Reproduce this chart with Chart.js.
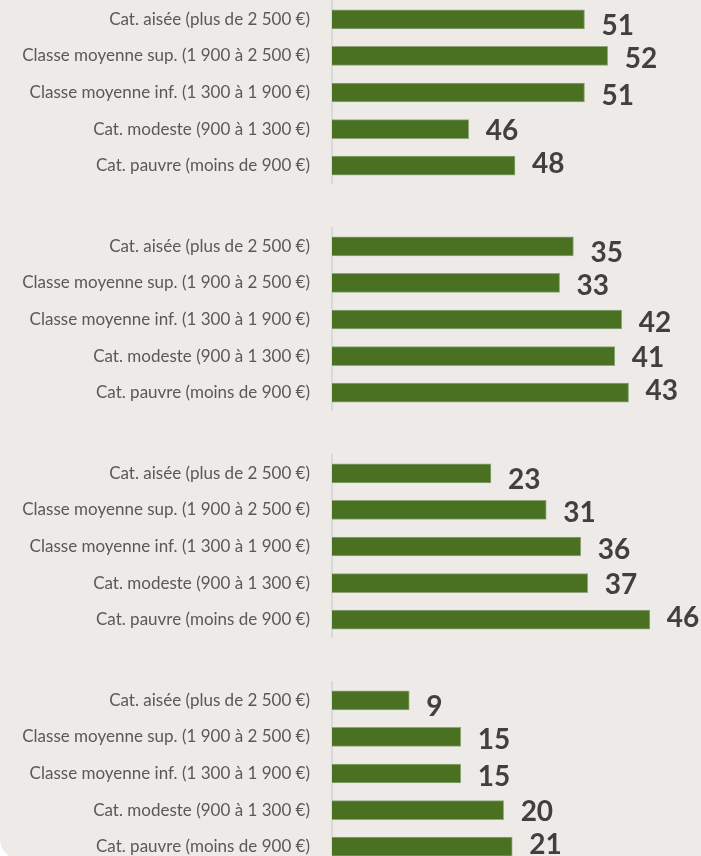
<!DOCTYPE html>
<html><head><meta charset="utf-8">
<script src="https://cdn.jsdelivr.net/npm/chart.js@4/dist/chart.umd.min.js"></script>
<style>
html,body{margin:0;padding:0;background:#fff;overflow:hidden;}
#wrap{position:relative;width:701px;height:859px;background:#EDEAE8;border-radius:0 0 0 20px;overflow:hidden;}
canvas{position:absolute;left:0;}
</style></head><body>
<div id="wrap">
<canvas id="g0" width="701" height="184" style="top:0px"></canvas>
<canvas id="g1" width="701" height="184" style="top:227px"></canvas>
<canvas id="g2" width="701" height="184" style="top:454px"></canvas>
<canvas id="g3" width="701" height="184" style="top:681px"></canvas>
</div>
<script>
const categories = [
  "Cat. aisée (plus de 2 500 €)",
  "Classe moyenne sup. (1 900 à 2 500 €)",
  "Classe moyenne inf. (1 300 à 1 900 €)",
  "Cat. modeste (900 à 1 300 €)",
  "Cat. pauvre (moins de 900 €)"
];
const group1 = [51, 52, 51, 46, 48];
const group2 = [35, 33, 42, 41, 43];
const group3 = [23, 31, 36, 37, 46];
const group4 = [9, 15, 15, 20, 21];
const groups = [group1, group2, group3, group4];
const axisMin = [40.1, 0, 0, 0];
const axisMax = [56.03, 53.5, 53.4, 43];

const valueLabels = {
  id: 'valueLabels',
  afterDatasetsDraw(chart, args, opts) {
    const ctx = chart.ctx;
    const meta = chart.getDatasetMeta(0);
    const data = chart.data.datasets[0].data;
    ctx.save();
    ctx.font = opts.font;
    ctx.fillStyle = opts.color;
    ctx.textAlign = 'left';
    ctx.textBaseline = 'alphabetic';
    meta.data.forEach((bar, i) => {
      ctx.fillText(String(data[i]), bar.x + opts.gap, bar.y + opts.shift[i] + opts.capHalf);
    });
    ctx.restore();
  }
};

groups.forEach((vals, g) => {
  new Chart(document.getElementById('g' + g), {
    type: 'bar',
    data: {
      labels: categories,
      datasets: [{
        data: vals,
        backgroundColor: '#4A7021',
        borderColor: '#8FA67A',
        borderWidth: 1,
        barThickness: 19
      }]
    },
    options: {
      indexAxis: 'y',
      responsive: false,
      animation: false,
      devicePixelRatio: 1,
      layout: { padding: { top: 1, right: 0, bottom: 0, left: 0 } },
      plugins: {
        legend: { display: false },
        tooltip: { enabled: false },
        valueLabels: {
          font: 'bold 28px Lato',
          color: '#404040',
          gap: 17,
          capHalf: 10,
          shift: [6, 2, 2, 1, -3]
        }
      },
      scales: {
        x: {
          display: false,
          min: axisMin[g],
          max: axisMax[g]
        },
        y: {
          afterFit(scale) {
            scale.width = 332;
            scale.paddingTop = 0;
            scale.paddingBottom = 0;
          },
          grid: { display: true, drawOnChartArea: false, drawTicks: false },
          border: { display: true, color: '#D9D9D9', width: 2 },
          ticks: {
            color: '#595959',
            font: { family: 'Lato', size: 17 },
            padding: 22,
            autoSkip: false
          }
        }
      }
    },
    plugins: [valueLabels]
  });
});
</script>
</body></html>
